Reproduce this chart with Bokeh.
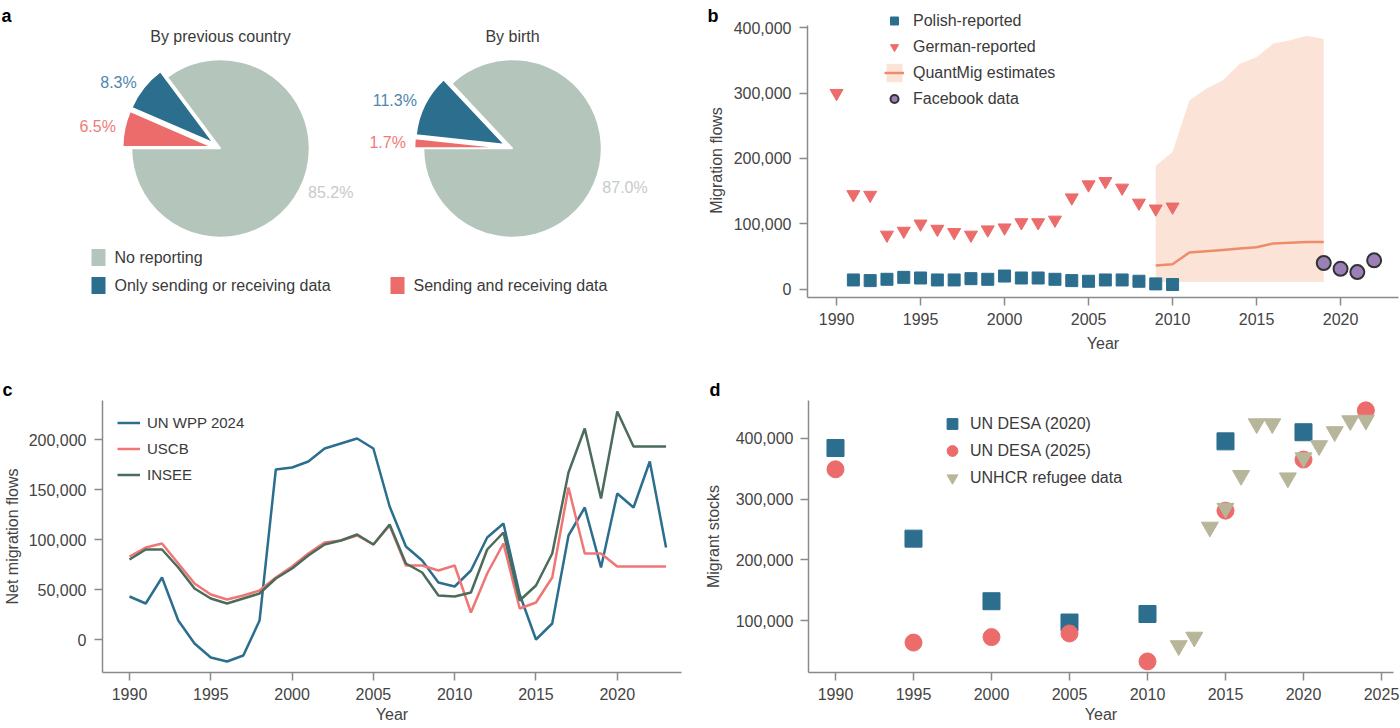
import numpy as np
from bokeh.plotting import figure
from bokeh.layouts import row, column
from bokeh.models import (Range1d, NumeralTickFormatter, FixedTicker, Legend,
                          LegendItem)
from bokeh.core.properties import value
from bokeh.embed import file_html
from bokeh.resources import INLINE

FONT = "Liberation Sans"
BLUE = "#2c6e8e"
RED = "#ec6b6b"
PIE_GREY = "#b4c5bb"
INSEE_GREEN = "#4b6b5b"
BAND = "#fce3d8"
QM_LINE = "#ee8c68"
FB_FILL = "#9b80b7"
UNHCR = "#b7b69a"
TXT = "#3a3a3a"
AXIS_TXT = "#444444"
AXIS = "#8a8a8a"

# ---- panel a: reporting coverage -------------------------------------
pie_categories = ["No reporting", "Only sending or receiving data",
                  "Sending and receiving data"]
pie_titles = ["By previous country", "By birth"]
share_previous = [85.2, 8.3, 6.5]
share_birth = [87.0, 11.3, 1.7]
pie_explode = [0.0, 0.1, 0.1]

# ---- panel b: flows Poland -> Germany ---------------------------------
polish_years = list(range(1991, 2011))
polish_reported = [14000, 13000, 15000, 18000, 17000, 14000, 14000, 16000,
                   15000, 20000, 17000, 17000, 15000, 13000, 12000, 14000,
                   14000, 12000, 8000, 7000]
german_years = list(range(1990, 2011))
german_reported = [300000, 145000, 144000, 83000, 89000, 100000, 92000, 87000,
                   83000, 91000, 94000, 102000, 102000, 106000, 140000, 160000,
                   165000, 155000, 132000, 123000, 126000]
quantmig_years = list(range(2009, 2020))
quantmig_median = [36000, 38000, 56000, 58000, 60000, 62000, 64000, 70000,
                   71000, 72000, 72000]
quantmig_lower = [11000, 11000, 11000, 11000, 11000, 11000, 11000, 11000,
                  11000, 11000, 11000]
quantmig_upper = [189000, 210000, 289000, 307000, 320000, 345000, 355000,
                  376000, 381000, 388000, 383000]
facebook_years = [2019, 2020, 2021, 2022]
facebook_flows = [40000, 31000, 26000, 44000]

# ---- panel c: net migration ------------------------------------------
net_years = list(range(1990, 2024))
un_wpp_2024 = [43000, 36000, 62000, 19000, -4000, -18000, -22000, -16000,
               19000, 170000, 172000, 178000, 191000, 196000, 201000, 191000,
               133000, 93000, 79000, 57000, 53000, 69000, 102000, 116000,
               45000, 0, 16000, 104000, 132000, 72000, 146000, 132000,
               178000, 92000]
uscb = [83000, 92000, 96000, 76000, 56000, 45000, 40000, 44000, 49000, 62000,
        73000, 86000, 97000, 99000, 104000, 95000, 114000, 74000, 74000,
        69000, 74000, 27000, 66000, 96000, 31000, 37000, 62000, 152000,
        86000, 86000, 73000, 73000, 73000, 73000]
insee = [80000, 90000, 90000, 72000, 51000, 41000, 36000, 41000, 46000, 61000,
         71000, 84000, 95000, 99000, 105000, 95000, 115000, 76000, 67000,
         44000, 43000, 47000, 90000, 107000, 39000, 54000, 86000, 167000,
         211000, 141000, 228000, 193000, 193000, 193000]

# ---- panel d: migrant stocks -----------------------------------------
desa2020_years = [1990, 1995, 2000, 2005, 2010, 2015, 2020]
desa2020_stock = [384000, 235000, 132000, 97000, 111000, 395000, 410000]
desa2025_years = [1990, 1995, 2000, 2005, 2010, 2015, 2020, 2024]
desa2025_stock = [349000, 64000, 73000, 79000, 33000, 281000, 365000, 446000]
unhcr_years = list(range(2012, 2025))
unhcr_refugees = [59000, 73000, 254000, 285000, 339000, 424000, 424000,
                  335000, 368000, 388000, 411000, 429000, 430000]

x_ticks_b = [1990, 1995, 2000, 2005, 2010, 2015, 2020]
y_ticks_b = [0, 100000, 200000, 300000, 400000]
x_ticks_c = [1990, 1995, 2000, 2005, 2010, 2015, 2020]
y_ticks_c = [0, 50000, 100000, 150000, 200000]
x_ticks_d = [1990, 1995, 2000, 2005, 2010, 2015, 2020, 2025]
y_ticks_d = [100000, 200000, 300000, 400000]


def base(width=700, **kw):
    p = figure(width=width, height=364, toolbar_location=None,
               output_backend="svg", outline_line_color=None, **kw)
    p.background_fill_color = "white"
    p.border_fill_color = "white"
    return p


def style_axes(p, xt, yt, xlabel, ylabel, xstandoff, ystandoff, ylab_off):
    p.xgrid.visible = False
    p.ygrid.visible = False
    p.xaxis.ticker = FixedTicker(ticks=xt)
    p.yaxis.ticker = FixedTicker(ticks=yt)
    p.yaxis.formatter = NumeralTickFormatter(format="0,0")
    p.xaxis.axis_label = xlabel
    if ylabel:
        p.yaxis.axis_label = ylabel
    for ax in list(p.xaxis) + list(p.yaxis):
        ax.axis_line_color = AXIS
        ax.axis_line_width = 1.5
        ax.major_tick_line_color = AXIS
        ax.major_tick_line_width = 1.5
        ax.major_tick_out = 8
        ax.major_tick_in = 0
        ax.minor_tick_line_color = None
        ax.major_label_text_font = FONT
        ax.major_label_text_font_size = "16px"
        ax.major_label_text_color = AXIS_TXT
        ax.major_label_standoff = 7
        ax.axis_label_text_font = FONT
        ax.axis_label_text_font_size = "16px"
        ax.axis_label_text_font_style = "normal"
        ax.axis_label_text_color = AXIS_TXT
    p.yaxis.major_label_standoff = ylab_off
    p.xaxis.axis_label_standoff = xstandoff
    p.yaxis.axis_label_standoff = ystandoff


def letter_title(p, letter, offset, standoff):
    t = p.title
    t.text = letter
    t.align = "left"
    t.offset = offset
    t.standoff = standoff
    t.vertical_align = "bottom"
    t.text_font = FONT
    t.text_font_size = "18px"
    t.text_font_style = "bold"
    t.text_color = "black"


def make_legend(items, loc, gw, gh, standoff, spacing=3, fs="16px"):
    return Legend(items=items, location=loc, padding=0, margin=0,
                  spacing=spacing, glyph_width=gw, glyph_height=gh,
                  label_height=gh, label_standoff=standoff,
                  label_text_font=FONT, label_text_font_size=fs,
                  label_text_color=TXT, background_fill_alpha=0,
                  border_line_color=None)


# ======================= panel a (plus the left margin of b) ==========
H = 364
WA = 726
pa = base(width=WA, x_range=Range1d(0, WA), y_range=Range1d(67, H),
          x_axis_type=None, y_axis_type=None, min_border_left=0,
          min_border_right=0, min_border_top=0, min_border_bottom=67)
pa.xgrid.visible = False
pa.ygrid.visible = False

pie_colors = [PIE_GREY, BLUE, RED]
pct_colors = ["#c6cbc8", "#4f86ad", "#f07a7a"]
R = 89
for title, shares, cx in zip(pie_titles, [share_previous, share_birth],
                             [220, 512]):
    cy = H - 148
    fr = np.array(shares) / 100.0
    starts = np.pi + 2 * np.pi * np.concatenate([[0], np.cumsum(fr)[:-1]])
    ends = starts + 2 * np.pi * fr
    mids = (starts + ends) / 2
    ex = np.array(pie_explode)
    ox = cx + ex * R * np.cos(mids)
    oy = cy + ex * R * np.sin(mids)
    pa.wedge(x=ox, y=oy, radius=R, start_angle=starts, end_angle=ends,
             fill_color=pie_colors, line_color="white", line_width=1.5)
    for i in range(3):
        lx = ox[i] + 1.1 * R * np.cos(mids[i])
        ly = oy[i] + 1.1 * R * np.sin(mids[i])
        pa.text(x=[lx], y=[ly], text=[f"{shares[i]:.1f}%"],
                text_align="left" if np.cos(mids[i]) > 0 else "right",
                text_baseline="middle", text_color=pct_colors[i],
                text_font=value(FONT), text_font_size="16px")
    pa.text(x=[cx], y=[H - 36], text=[title], text_align="center",
            text_baseline="middle", text_color=TXT, text_font=value(FONT),
            text_font_size="16px")

# legend of panel a (two columns)
leg_x = [98, 98, 397]
leg_y = [H - 257, H - 285, H - 285]
pa.rect(x=leg_x, y=leg_y, width=14, height=17, fill_color=pie_colors,
        line_color=None)
pa.text(x=[v + 16 for v in leg_x], y=leg_y, text=pie_categories,
        text_align="left", text_baseline="middle", text_color=TXT,
        text_font=value(FONT), text_font_size="16px")

# panel letters a and b, and the y-axis title of panel b
pa.text(x=[1, 707], y=[H - 15, H - 15], text=["a", "b"],
        text_font=value(FONT), text_font_size="18px",
        text_font_style="bold", text_color="black",
        text_baseline="alphabetic")
pa.text(x=[716], y=[H - 160], text=["Migration flows"], angle=np.pi / 2,
        text_align="center", text_baseline="middle", text_color=AXIS_TXT,
        text_font=value(FONT), text_font_size="16px")

# ======================= panel b =======================================
pb = base(width=1400 - WA, x_range=Range1d(1988.27, 2023.45),
          y_range=Range1d(-12864, 441960),
          min_border_left=807 - WA, min_border_right=2, min_border_top=0,
          min_border_bottom=67)
style_axes(pb, x_ticks_b, y_ticks_b, "Year", None, 7, 0, 8)
pb.yaxis.bounds = (-12864, 403700)

r_band = pb.varea(x=quantmig_years, y1=quantmig_lower, y2=quantmig_upper,
                  fill_color=BAND, fill_alpha=1.0)
r_qm = pb.line(x=quantmig_years, y=quantmig_median, line_color=QM_LINE,
               line_width=2.5)
r_pol = pb.scatter(x=polish_years, y=polish_reported, marker="square",
                   size=12, fill_color=BLUE, line_color=BLUE)
r_ger = pb.scatter(x=german_years, y=german_reported,
                   marker="inverted_triangle", size=13, fill_color=RED,
                   line_color=RED)
r_fb = pb.scatter(x=facebook_years, y=facebook_flows, marker="circle",
                  size=14, fill_color=FB_FILL, line_color="#333333",
                  line_width=2)
pb.add_layout(make_legend([
    LegendItem(label="Polish-reported", renderers=[r_pol]),
    LegendItem(label="German-reported", renderers=[r_ger]),
    LegendItem(label="QuantMig estimates", renderers=[r_band, r_qm]),
    LegendItem(label="Facebook data", renderers=[r_fb]),
], (77, 187), 20, 23, 9))

# ======================= panel c =======================================
pc = base(x_range=Range1d(1988.34, 2023.95), y_range=Range1d(-33000, 239000),
          min_border_left=102, min_border_right=19, min_border_top=36,
          min_border_bottom=56)
style_axes(pc, x_ticks_c, y_ticks_c, "Year", "Net migration flows", 3, 5, 8)
r_un = pc.line(x=net_years, y=un_wpp_2024, line_color=BLUE, line_width=2.5)
r_us = pc.line(x=net_years, y=uscb, line_color="#f07575", line_width=2.5)
r_in = pc.line(x=net_years, y=insee, line_color=INSEE_GREEN, line_width=2.5)
pc.add_layout(make_legend([
    LegendItem(label="UN WPP 2024", renderers=[r_un]),
    LegendItem(label="USCB", renderers=[r_us]),
    LegendItem(label="INSEE", renderers=[r_in]),
], (15, 186), 23, 23, 7, fs="15px"))
letter_title(pc, "c", -100, 1)

# ======================= panel d =======================================
pd_ = base(x_range=Range1d(1988.27, 2025.77), y_range=Range1d(14800, 462200),
           min_border_left=108, min_border_right=7, min_border_top=36,
           min_border_bottom=56)
style_axes(pd_, x_ticks_d, y_ticks_d, "Year", "Migrant stocks", 3, 11, 7)
r_d20 = pd_.scatter(x=desa2020_years, y=desa2020_stock, marker="square",
                    size=17, fill_color=BLUE, line_color=BLUE)
r_d25 = pd_.scatter(x=desa2025_years, y=desa2025_stock, marker="circle",
                    size=17, fill_color=RED, line_color=RED)
r_unh = pd_.scatter(x=unhcr_years, y=unhcr_refugees,
                    marker="inverted_triangle", size=17, fill_color=UNHCR,
                    line_color=UNHCR)
pd_.add_layout(make_legend([
    LegendItem(label="UN DESA (2020)", renderers=[r_d20]),
    LegendItem(label="UN DESA (2025)", renderers=[r_d25]),
    LegendItem(label="UNHCR refugee data", renderers=[r_unh]),
], (130, 181), 28, 27, 4, spacing=0))
letter_title(pd_, "d", -99, 1)

layout = column(row(pa, pb), row(pc, pd_))
open("out.html", "w").write(file_html(layout, INLINE))
